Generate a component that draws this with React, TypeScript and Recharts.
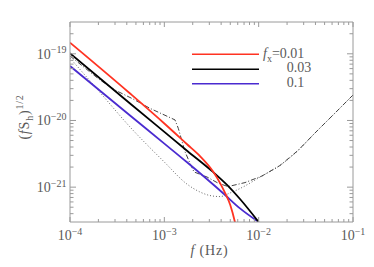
import React from 'react';
import { LineChart, Line, XAxis, YAxis } from 'recharts';

// ---- data (frequency in Hz, amplitude (f S_h)^{1/2}) ----
const freqRed = [1e-4, 4.3e-4, 1e-3, 1.74e-3, 2.4e-3, 3.3e-3, 3.9e-3, 4.4e-3, 5e-3, 5.6e-3, 6e-3];
const ampRed = [1.47e-19, 2.56e-20, 9.0e-21, 4.4e-21, 2.9e-21, 1.7e-21, 1.15e-21, 8.2e-22, 5.4e-22, 3.0e-22, 1.9e-22];

const freqBlack = [1e-4, 4.33e-4, 1e-3, 1.74e-3, 3.28e-3, 4.62e-3, 6.34e-3, 1e-2];
const ampBlack = [1.02e-19, 1.8e-20, 6.74e-21, 3.52e-21, 1.69e-21, 1.08e-21, 6.64e-22, 3.0e-22];

const freqBlue = [1e-4, 4.33e-4, 1e-3, 1.74e-3, 4.29e-3, 6.34e-3, 1e-2];
const ampBlue = [6.56e-20, 1.19e-20, 4.5e-21, 2.36e-21, 7.89e-22, 4.8e-22, 3.0e-22];

const freqDotted = [1e-4, 1.98e-4, 4.33e-4, 1e-3, 1.74e-3, 2.39e-3, 3.05e-3, 3.89e-3, 4.97e-3, 6.34e-3, 1.085e-2, 1.68e-2, 2.61e-2, 3.86e-2, 6.44e-2, 0.1];
const ampDotted = [8.65e-20, 2.86e-20, 7.98e-21, 2.38e-21, 1.11e-21, 8.45e-22, 7.48e-22, 7.22e-22, 8.17e-22, 9.54e-22, 1.47e-21, 2.11e-21, 3.54e-21, 6.27e-21, 1.29e-20, 2.41e-20];

const freqDashDot = [1e-4, 2.08e-4, 3.0e-4, 4.66e-4, 7.05e-4, 1.297e-3, 1.406e-3, 1.656e-3, 1.871e-3, 2.063e-3, 2.833e-3, 3.71e-3, 4.73e-3, 7.16e-3, 1.085e-2, 1.68e-2, 2.61e-2, 3.86e-2, 6.44e-2, 0.1];
const ampDashDot = [9.27e-20, 4.05e-20, 2.86e-20, 2.1e-20, 1.52e-20, 1.02e-20, 7.63e-21, 3.4e-21, 2.28e-21, 1.69e-21, 1.42e-21, 1.15e-21, 1.02e-21, 1.17e-21, 1.47e-21, 2.11e-21, 3.54e-21, 6.27e-21, 1.29e-20, 2.41e-20];

const legendLabels = ['0.01', '0.03', '0.1'];
const xMajor = [1e-4, 1e-3, 1e-2, 1e-1];
const xMinor = [2e-4, 3e-4, 4e-4, 5e-4, 6e-4, 7e-4, 8e-4, 9e-4, 2e-3, 3e-3, 4e-3, 5e-3, 6e-3, 7e-3, 8e-3, 9e-3, 2e-2, 3e-2, 4e-2, 5e-2, 6e-2, 7e-2, 8e-2, 9e-2];
const yMajor = [1e-21, 1e-20, 1e-19];
const yMinor = [4e-22, 5e-22, 6e-22, 7e-22, 8e-22, 9e-22, 2e-21, 3e-21, 4e-21, 5e-21, 6e-21, 7e-21, 8e-21, 9e-21, 2e-20, 3e-20, 4e-20, 5e-20, 6e-20, 7e-20, 8e-20, 9e-20, 2e-19];

const toData = (f: number[], v: number[]) => f.map((x, i) => ({ f: x, v: v[i] }));

const W = 366;
const H = 259;
const FONT = '"Liberation Serif", "DejaVu Serif", serif';
const AXIS = '#9a9a9a';
const TEXT = '#5a5a5a';
const RED = '#ff3322';
const BLUE = '#4a2bd0';

const isMajor = (v: number) => {
  const l = Math.log10(v);
  return Math.abs(l - Math.round(l)) < 1e-6;
};
const expOf = (v: number) => Math.round(Math.log10(v));

const XTick = (props: any) => {
  const { x, y, payload, side } = props;
  const v = payload.value;
  const major = isMajor(v);
  const len = major ? 5 : 3;
  const dir = side === 'top' ? 1 : -1;
  return (
    <g>
      <line x1={x} x2={x} y1={y} y2={y + dir * len} stroke={AXIS} strokeWidth={1} />
      {major && side !== 'top' ? (
        <text x={x} y={y + 18} textAnchor="middle" fontFamily={FONT} fontSize={14} fill={TEXT}>
          10
          <tspan dy={-5.5} fontSize={10}>{'\u2212' + Math.abs(expOf(v))}</tspan>
        </text>
      ) : null}
    </g>
  );
};

const YTick = (props: any) => {
  const { x, y, payload, side } = props;
  const v = payload.value;
  const major = isMajor(v);
  const len = major ? 6 : 3.5;
  const dir = side === 'right' ? -1 : 1;
  return (
    <g>
      <line x1={x} x2={x + dir * len} y1={y} y2={y} stroke={AXIS} strokeWidth={1} />
      {major && side !== 'right' ? (
        <text x={x - 3.5} y={y + 5} textAnchor="end" fontFamily={FONT} fontSize={14} fill={TEXT}>
          10
          <tspan dy={-5.5} fontSize={10}>{'\u2212' + Math.abs(expOf(v))}</tspan>
        </text>
      ) : null}
    </g>
  );
};

export default function App() {
  const xTicks = [...xMajor, ...xMinor].sort((a, b) => a - b);
  const yTicks = [...yMajor, ...yMinor].sort((a, b) => a - b);
  const xDomain: [number, number] = [1e-4, 0.1];
  const yDomain: [number, number] = [3e-22, 3e-19];
  const common = { isAnimationActive: false, dot: false, activeDot: false, xAxisId: 'b', yAxisId: 'l', dataKey: 'v' } as any;

  return (
    <div style={{ position: 'relative', width: W, height: H }}>
      <LineChart width={W} height={H} margin={{ top: 10, right: 17, bottom: 15, left: 22 }}>
        <XAxis xAxisId="b" dataKey="f" type="number" scale="log" domain={xDomain} allowDataOverflow
          ticks={xTicks} interval={0} tickSize={0} tickMargin={0} tickLine={false}
          tick={<XTick side="bottom" />} height={30} axisLine={{ stroke: AXIS }} />
        <XAxis xAxisId="t" orientation="top" dataKey="f" type="number" scale="log" domain={xDomain} allowDataOverflow
          ticks={xTicks} interval={0} tickSize={0} tickMargin={0} tickLine={false}
          tick={<XTick side="top" />} height={4} axisLine={{ stroke: AXIS }} />
        <YAxis yAxisId="l" type="number" scale="log" domain={yDomain} allowDataOverflow
          ticks={yTicks} interval={0} tickSize={0} tickMargin={0} tickLine={false}
          tick={<YTick side="left" />} width={40} axisLine={{ stroke: AXIS }} />
        <YAxis yAxisId="r" orientation="right" type="number" scale="log" domain={yDomain} allowDataOverflow
          ticks={yTicks} interval={0} tickSize={0} tickMargin={0} tickLine={false}
          tick={<YTick side="right" />} width={4} axisLine={{ stroke: AXIS }} />
        <Line {...common} data={toData(freqDotted, ampDotted)} type="monotone" stroke="#666" strokeWidth={1} strokeDasharray="1 2" />
        <Line {...common} data={toData(freqDashDot, ampDashDot)} type="linear" stroke="#444" strokeWidth={1} strokeDasharray="5 2 1 2" />
        <Line {...common} data={toData(freqBlue, ampBlue)} type="monotone" stroke={BLUE} strokeWidth={1.8} />
        <Line {...common} data={toData(freqBlack, ampBlack)} type="monotone" stroke="#000" strokeWidth={1.8} />
        <Line {...common} data={toData(freqRed, ampRed)} type="monotone" stroke={RED} strokeWidth={1.8} />
      </LineChart>
      <svg width={W} height={H} style={{ position: 'absolute', left: 0, top: 0, pointerEvents: 'none' }}>
        {/* legend */}
        <line x1={184} x2={251} y1={46.3} y2={46.3} stroke={RED} strokeWidth={1.6} />
        <line x1={184} x2={251} y1={61.3} y2={61.3} stroke="#000" strokeWidth={1.6} />
        <line x1={184} x2={251} y1={75.7} y2={75.7} stroke={BLUE} strokeWidth={1.6} />
        <text x={255} y={49.5} fontFamily={FONT} fontSize={14} fill={TEXT}>
          <tspan fontStyle="italic">f</tspan>
          <tspan dy={4} fontSize={10}>x</tspan>
          <tspan dy={-4}>{'=' + legendLabels[0]}</tspan>
        </text>
        <text x={278.7} y={64.3} fontFamily={FONT} fontSize={14} fill={TEXT}>{legendLabels[1]}</text>
        <text x={278.7} y={78.7} fontFamily={FONT} fontSize={14} fill={TEXT}>{legendLabels[2]}</text>
        {/* x title */}
        <text x={201.5} y={247} textAnchor="middle" fontFamily={FONT} fontSize={14} fill={TEXT} letterSpacing={0.8}>
          <tspan fontStyle="italic">f</tspan> (Hz)
        </text>
        {/* y title */}
        <text transform="translate(20.5,109) rotate(-90)" textAnchor="middle" fontFamily={FONT} fontSize={14} fill={TEXT} letterSpacing={0.8}>
          (<tspan fontStyle="italic">f</tspan>S<tspan dy={4} fontSize={10}>h</tspan><tspan dy={-4}>)</tspan><tspan dy={-6} fontSize={10}>1/2</tspan>
        </text>
      </svg>
    </div>
  );
}
